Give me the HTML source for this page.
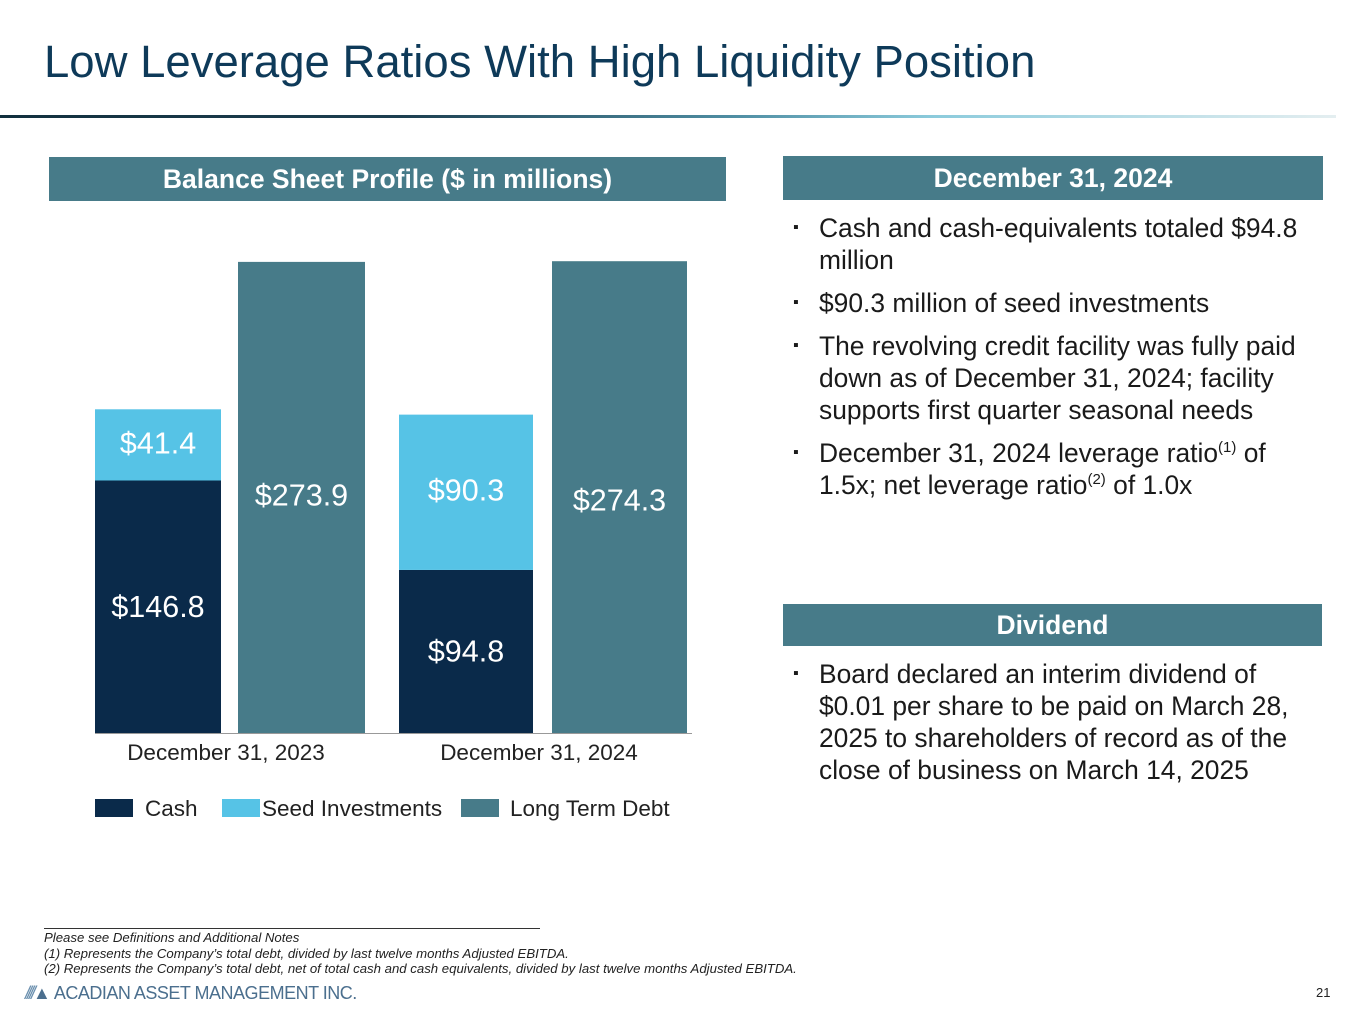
<!DOCTYPE html>
<html><head><meta charset="utf-8"><style>
body{margin:0;width:1365px;height:1024px;background:#fff;font-family:"Liberation Sans",Arial,sans-serif;position:relative;overflow:hidden}
.abs{position:absolute}
.hdr{position:absolute;background:#477b89;color:#fff;font-weight:bold;font-size:26.5px;text-align:center;height:44px;line-height:44px}
ul{margin:0;padding:0;list-style:none}
li{position:relative;padding-left:36px;font-size:26.4px;line-height:32px;color:#1a1a1a;margin-bottom:11px}
li:before{content:"▪";position:absolute;left:10px;top:0;font-size:16px}
sup{font-size:15px;line-height:0}
.fn{font-style:italic;font-size:13.2px;color:#222;line-height:15.5px}
</style></head><body>
<div class="abs" style="left:44px;top:36px;font-size:45.5px;color:#0e3a59">Low Leverage Ratios With High Liquidity Position</div>
<div class="abs" style="left:0;top:115px;width:1336px;height:3px;background:linear-gradient(90deg,#12303e 0%,#1d3f50 30%,#4f8ea3 55%,#8ccbdc 70%,#e4eef0 100%)"></div>
<div class="hdr" style="left:49px;top:157px;width:677px">Balance Sheet Profile ($ in millions)</div>
<div class="hdr" style="left:783px;top:156px;width:540px">December 31, 2024</div>
<div class="hdr" style="left:783px;top:604px;width:539px;height:42px;line-height:42px">Dividend</div>
<ul class="abs" style="left:783px;top:212px;width:530px">
<li>Cash and cash-equivalents totaled $94.8 million</li>
<li>$90.3 million of seed investments</li>
<li>The revolving credit facility was fully paid down as of December 31, 2024; facility supports first quarter seasonal needs</li>
<li>December 31, 2024 leverage ratio<sup>(1)</sup> of 1.5x; net leverage ratio<sup>(2)</sup> of 1.0x</li>
</ul>
<ul class="abs" style="left:783px;top:658px;width:530px">
<li>Board declared an interim dividend of $0.01 per share to be paid on March 28, 2025 to shareholders of record as of the close of business on March 14, 2025</li>
</ul>
<svg class="abs" style="left:0;top:0" width="1365" height="1024" id="chart"></svg>
<div class="abs" style="left:44px;top:928px;width:496px;height:1px;background:#333"></div>
<div class="abs fn" style="left:44px;top:930px">Please see Definitions and Additional Notes<br>(1) Represents the Company’s total debt, divided by last twelve months Adjusted EBITDA.<br>(2) Represents the Company’s total debt, net of total cash and cash equivalents, divided by last twelve months Adjusted EBITDA.</div>
<div class="abs" style="left:25px;top:983px;font-size:18px;color:#4b6f8e;letter-spacing:-0.5px"><span style="color:#6a8fae;font-style:italic;letter-spacing:-3px">////</span>▲ ACADIAN ASSET MANAGEMENT INC.</div>
<div class="abs" style="left:1316px;top:985px;font-size:13px;color:#222">21</div>
<script>
const categories=["December 31, 2023","December 31, 2024"];
const cashValues=[146.8,94.8];
const seedValues=[41.4,90.3];
const debtValues=[273.9,274.3];
const svg=document.getElementById('chart');
const NS='http://www.w3.org/2000/svg';
const base=733, k=1.72;
function y(v){return base-v*k;}
const groupX=[95,399], stackW=[126,134], debtX=[238,552], debtW=[127,135];
function rect(x,y0,w,h,fill,name){const r=document.createElementNS(NS,'rect');r.setAttribute('x',x);r.setAttribute('y',y0);r.setAttribute('width',w);r.setAttribute('height',h);r.setAttribute('fill',fill);


svg.appendChild(r);}
function text(x,y0,s,size,fill,name,anchor){const t=document.createElementNS(NS,'text');t.setAttribute('x',x);t.setAttribute('y',y0);t.setAttribute('font-size',size);t.setAttribute('fill',fill);t.setAttribute('text-anchor',anchor||'middle');t.setAttribute('font-family','Liberation Sans, Arial, sans-serif');t.textContent=s;


svg.appendChild(t);}
categories.forEach((c,i)=>{
  const cx=groupX[i],w=stackW[i];
  rect(cx,y(cashValues[i]),w,cashValues[i]*k,'#0a2a4a','bar-cash-'+i);
  rect(cx,y(cashValues[i]+seedValues[i]),w,seedValues[i]*k,'#56c3e6','bar-seed-'+i);
  rect(debtX[i],y(debtValues[i]),debtW[i],debtValues[i]*k,'#477b89','bar-debt-'+i);
  text(cx+w/2,(y(cashValues[i])+base)/2+10,'$'+cashValues[i].toFixed(1),30.5,'#fff','label-cash-'+i);
  text(cx+w/2,y(cashValues[i]+seedValues[i])+(i==0?44:86),'$'+seedValues[i].toFixed(1),30.5,'#fff','label-seed-'+i);
  text(debtX[i]+debtW[i]/2,y(cashValues[0]+seedValues[0])+(i==0?96:101),'$'+debtValues[i].toFixed(1),30.5,'#fff','label-debt-'+i);
  text((cx+debtX[i]+debtW[i])/2-4,760,c,22.5,'#222','x-label-'+i);
});
const ax=document.createElementNS(NS,'line');ax.setAttribute('x1',95);ax.setAttribute('x2',692);ax.setAttribute('y1',733.5);ax.setAttribute('y2',733.5);ax.setAttribute('stroke','#999');


svg.appendChild(ax);
const legend=[["Cash","#0a2a4a",95],["Seed Investments","#56c3e6",222],["Long Term Debt","#477b89",461]];
legend.forEach((l,i)=>{rect(l[2],799,38,18,l[1],'legend-swatch-'+i);text(l[2]+(i==0?50:(i==1?40:49)),816,l[0],22.5,'#222','legend-entry-'+i,'start');});
</script>
</body></html>
